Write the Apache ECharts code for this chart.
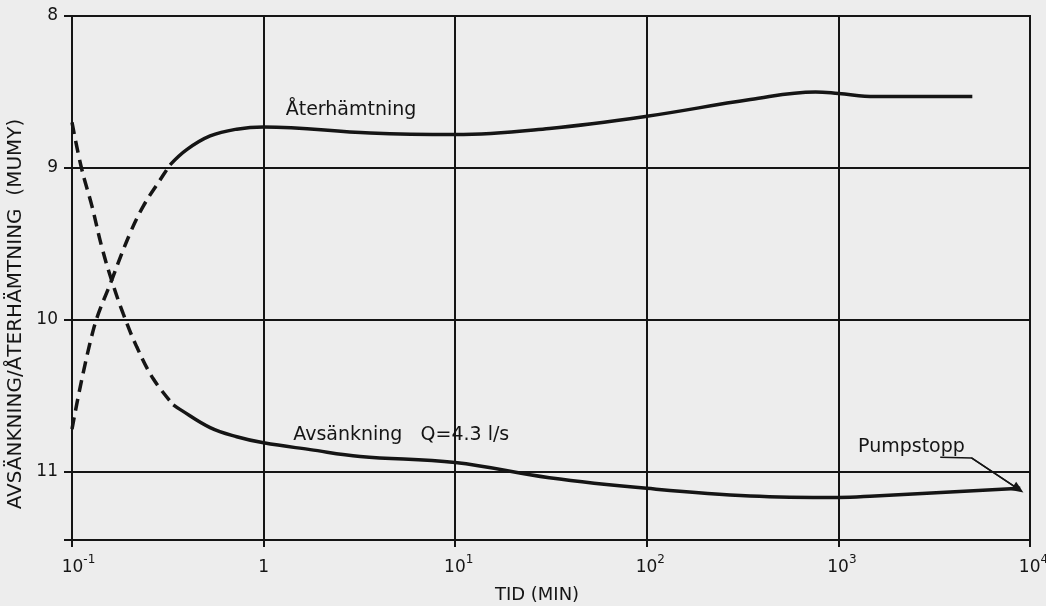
<!DOCTYPE html>
<html><head><meta charset="utf-8">
<script src="https://cdn.jsdelivr.net/npm/echarts@6/dist/echarts.min.js"></script>
<style>html,body{margin:0;padding:0;background:#ededed}#c{width:1046px;height:606px}</style>
</head><body><div id="c"></div>
<script>
// Återhämtning (recovery) — dashed early part, solid later part
const recoveryDashedT = [0.1, 0.129, 0.161, 0.201, 0.236, 0.288, 0.325];
const recoveryDashedV = [10.72, 10.07, 9.74, 9.43, 9.25, 9.08, 8.98];
const recoverySolidT = [0.325, 0.397, 0.526, 0.724, 1, 3.6, 10, 31, 100, 347, 760, 1000, 1550, 5000];
const recoverySolidV = [8.98, 8.88, 8.79, 8.745, 8.73, 8.77, 8.78, 8.74, 8.66, 8.55, 8.50, 8.51, 8.53, 8.53];
// Avsänkning (drawdown)
const drawdownDashedT = [0.1, 0.112, 0.127, 0.143, 0.161, 0.185, 0.218, 0.266, 0.338];
const drawdownDashedV = [8.70, 9.0, 9.25, 9.52, 9.74, 9.96, 10.18, 10.39, 10.56];
const drawdownSolidT = [0.338, 0.366, 0.526, 0.724, 1, 1.75, 3.19, 10, 31, 100, 347, 1000, 1550, 8900];
const drawdownSolidV = [10.56, 10.59, 10.71, 10.77, 10.81, 10.855, 10.90, 10.94, 11.04, 11.11, 11.16, 11.17, 11.16, 11.11];
// Pumpstopp leader line
const leaderT = [3400, 4950, 8700];
const leaderV = [10.905, 10.91, 11.115];
// Text labels
const labelTexts = ['Återhämtning', 'Avsänkning   Q=4.3 l/s', 'Pumpstopp'];
const labelT = [2.86, 5.23, 2405];
const labelV = [8.62, 10.76, 10.84];
// Axes
const yMin = 8, yMax = 11.45, yInterval = 1;
const xMin = 0.1, xMax = 10000;
const yAxisName = 'AVSÄNKNING/ÅTERHÄMTNING  (MUMY)';
const xAxisName = 'TID (MIN)';

const zip = (a, b) => a.map((t, i) => [t, b[i]]);
const ink = '#151515';
const font = 'DejaVu Sans';

const chart = echarts.init(document.getElementById('c'));
const lineBase = { type: 'line', showSymbol: false, symbol: 'none', smooth: 0.4, animation: false, silent: true };
chart.setOption({
  backgroundColor: '#ededed',
  animation: false,
  grid: { left: 72, right: 16, top: 16, bottom: 66, containLabel: false, outerBoundsMode: 'none', show: true, borderColor: ink, borderWidth: 2, backgroundColor: 'transparent' },
  xAxis: {
    type: 'log', logBase: 10, min: xMin, max: xMax,
    name: xAxisName, nameLocation: 'middle', nameGap: 46,
    nameTextStyle: { fontFamily: font, fontSize: 18, color: ink, padding: [0, 28, 0, 0] },
    axisLine: { show: true, lineStyle: { color: ink, width: 2 } },
    axisTick: { show: true, length: 7, lineStyle: { color: ink, width: 2 } },
    minorTick: { show: false },
    splitLine: { show: true, lineStyle: { color: ink, width: 2 } },
    axisLabel: {
      margin: 14, color: ink, fontFamily: font,
      formatter: v => {
        const e = Math.round(Math.log10(v));
        if (e === 0) return '{b|1}';
        return (e < 0 ? '{pw|}' : '{pn|}') + '{b|10}{s|' + e + '}';
      },
      rich: {
        pw: { width: 13 },
        pn: { width: 7 },
        b: { fontFamily: font, fontSize: 17, color: ink, lineHeight: 22, verticalAlign: 'bottom' },
        s: { fontFamily: font, fontSize: 12, color: ink, lineHeight: 12, verticalAlign: 'top' }
      }
    }
  },
  yAxis: {
    type: 'value', inverse: true, min: yMin, max: yMax, interval: yInterval,
    name: yAxisName, nameLocation: 'middle', nameGap: 46, nameRotate: 90,
    nameTextStyle: { fontFamily: font, fontSize: 20, color: ink, padding: [0, 72, 0, 0] },
    axisLine: { show: true, lineStyle: { color: ink, width: 2 } },
    axisTick: { show: true, length: 8, lineStyle: { color: ink, width: 2 } },
    splitLine: { show: true, lineStyle: { color: ink, width: 2 } },
    axisLabel: {
      margin: 14, color: ink, fontFamily: font, fontSize: 17,
      formatter: v => Number.isInteger(v) ? String(v) : ''
    }
  },
  series: [
    Object.assign({}, lineBase, { name: 'Återhämtning dashed', data: zip(recoveryDashedT, recoveryDashedV), lineStyle: { color: ink, width: 3.5, type: [12, 7] } }),
    Object.assign({}, lineBase, { name: 'Återhämtning', data: zip(recoverySolidT, recoverySolidV), lineStyle: { color: ink, width: 3.5 } }),
    Object.assign({}, lineBase, { name: 'Avsänkning dashed', data: zip(drawdownDashedT, drawdownDashedV), lineStyle: { color: ink, width: 3.5, type: [12, 7] } }),
    Object.assign({}, lineBase, { name: 'Avsänkning', data: zip(drawdownSolidT, drawdownSolidV), lineStyle: { color: ink, width: 3.5 } }),
    Object.assign({}, lineBase, {
      name: 'Pumpstopp', smooth: false, data: zip(leaderT, leaderV), lineStyle: { color: ink, width: 1.5 },
      markLine: {
        silent: true, animation: false, symbol: ['none', 'triangle'], symbolSize: [10, 12],
        label: { show: false }, lineStyle: { color: ink, width: 1.5, type: 'solid' },
        data: [[{ coord: [leaderT[1], leaderV[1]] }, { coord: [leaderT[2], leaderV[2]] }]]
      }
    })
  ]
});

const texts = labelTexts.map((t, i) => {
  const p = chart.convertToPixel({ gridIndex: 0 }, [labelT[i], labelV[i]]);
  return { type: 'text', x: p[0], y: p[1], style: { text: t, fill: ink, font: '19px "DejaVu Sans"', align: 'center', verticalAlign: 'middle' } };
});
chart.setOption({ graphic: texts });
</script>
</body></html>
